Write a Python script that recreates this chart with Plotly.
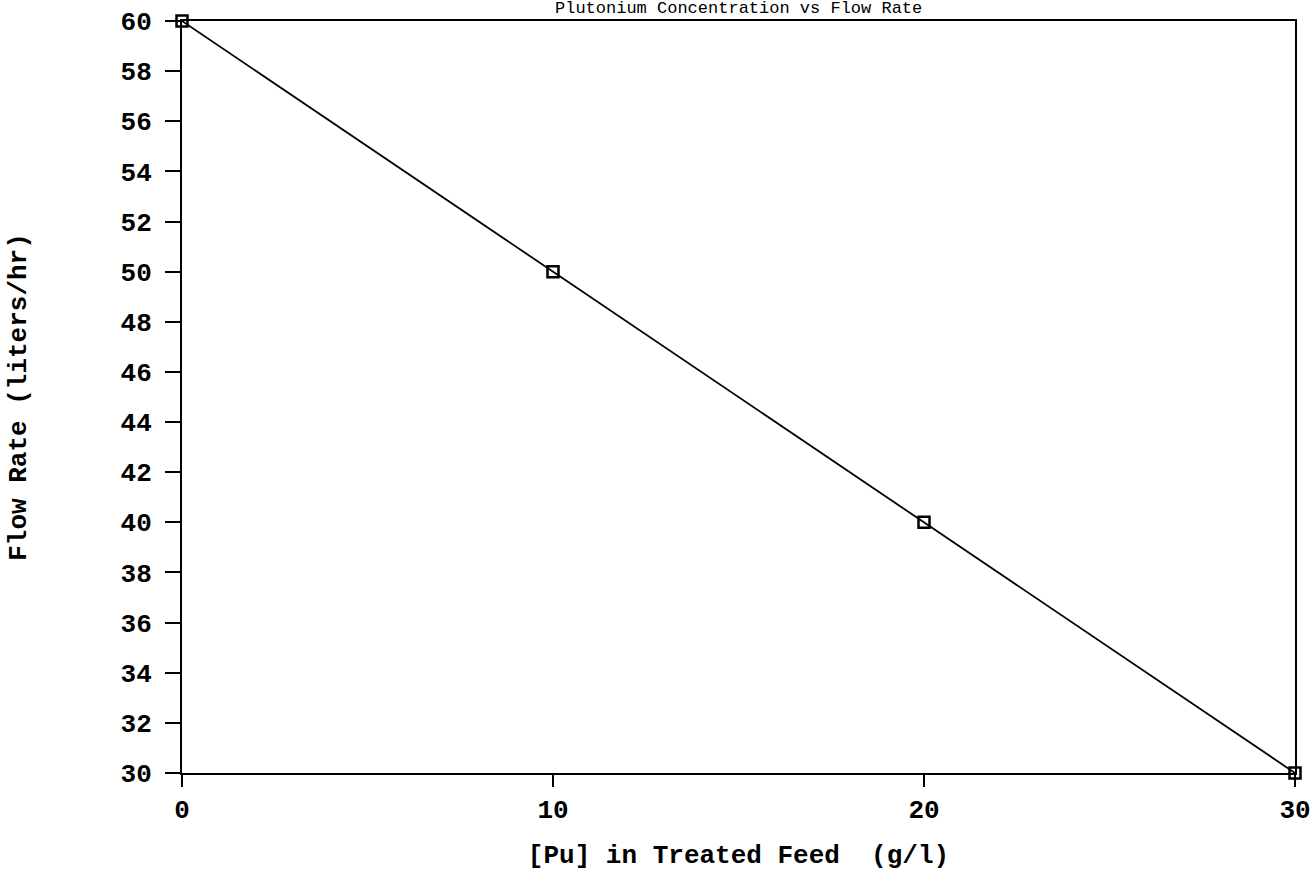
import plotly.graph_objects as go

pu_conc = [0, 10, 20, 30]
flow_rate = [60, 50, 40, 30]
x_ticks = [0, 10, 20, 30]
y_ticks = list(range(30, 62, 2))

font_family = "Liberation Mono"

fig = go.Figure()
fig.add_trace(go.Scatter(
    x=pu_conc, y=flow_rate, mode="lines+markers",
    line=dict(color="black", width=1.8),
    marker=dict(symbol="square-open", size=11, color="black", line=dict(width=2.5)),
    showlegend=False, cliponaxis=False,
))

fig.update_layout(
    width=1315, height=876,
    margin=dict(l=182, r=20, t=21, b=103),
    paper_bgcolor="white", plot_bgcolor="white",
    font=dict(family=font_family, color="black", size=26, weight="bold"),
)
fig.add_annotation(
    text="Plutonium Concentration vs Flow Rate",
    xref="paper", yref="paper", x=0.5, y=1, yshift=1,
    xanchor="center", yanchor="bottom", showarrow=False,
    font=dict(family=font_family, size=17, color="black", weight="normal"),
)
fig.update_xaxes(
    range=[0, 30], tickvals=x_ticks, ticks="outside", ticklen=12, tickwidth=2,
    tickcolor="black", showline=True, linecolor="black", linewidth=2, mirror=True,
    showgrid=False, zeroline=False, automargin=False, ticklabeloverflow="allow",
    title=dict(text="[Pu] in Treated Feed  (g/l)", standoff=20,
               font=dict(size=26, weight="bold")),
)
fig.update_yaxes(
    range=[30, 60], tickvals=y_ticks, ticks="outside", ticklen=15, tickwidth=2,
    tickcolor="black", showline=True, linecolor="black", linewidth=2, mirror=True,
    showgrid=False, zeroline=False, ticklabelstandoff=8, automargin=False,
    ticklabeloverflow="allow",
    title=dict(text="Flow Rate (liters/hr)", standoff=86,
               font=dict(size=26, weight="bold")),
)

fig.write_html("out.html", post_script="document.body.style.margin='0';",
               config={"displayModeBar": False})
